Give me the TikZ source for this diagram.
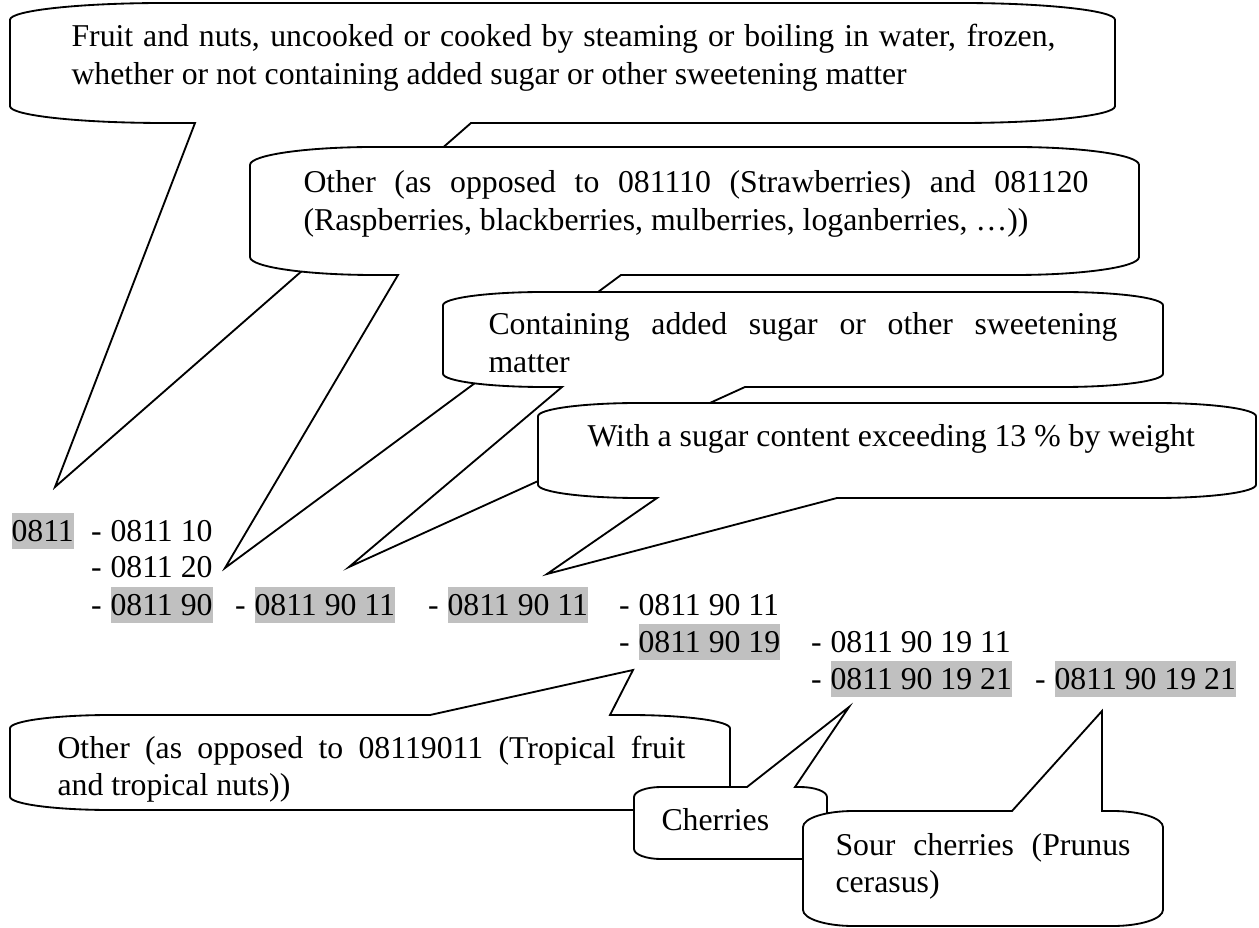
\documentclass[tikz,border=0pt]{standalone}
\usepackage{fontspec}
\setmainfont{Liberation Serif}
\definecolor{hlgray}{RGB}{192,192,192}
\newdimen\px \px=0.381pt
% callout: left, top, right, bottom, wedge on top edge, wedge on bottom edge
\newcommand\bubble[6]{%
  \pgfmathsetmacro\crx{0.14*(#3-#1)}%
  \pgfmathsetmacro\cry{0.14*(#4-#2)}%
  \pgfmathsetmacro\ckx{0.5523*\crx}%
  \pgfmathsetmacro\cky{0.5523*\cry}%
  \draw[bubbleline] (#1,#2+\cry) .. controls (#1,#2+\cry-\cky) and (#1+\crx-\ckx,#2) .. (#1+\crx,#2) #5
    -- (#3-\crx,#2) .. controls (#3-\crx+\ckx,#2) and (#3,#2+\cry-\cky) .. (#3,#2+\cry)
    -- (#3,#4-\cry) .. controls (#3,#4-\cry+\cky) and (#3-\crx+\ckx,#4) .. (#3-\crx,#4) #6
    -- (#1+\crx,#4) .. controls (#1+\crx-\ckx,#4) and (#1,#4-\cry+\cky) .. (#1,#4-\cry) -- cycle;}
% code with its leading dash
\newcommand\codeitem[5]{%
  \node[code,#5] (#1) at (#2,#3) {#4};
  \node[code,anchor=base east] (#1-dash) at ([xshift=-3pt]#1.base west) {-};}

\begin{document}
\begin{tikzpicture}[x=0.381pt,y=-0.381pt,
    bubbleline/.style={fill=white,line width=0.7pt,line join=miter},
    note/.style={anchor=base west,inner sep=0pt,align=justify,
      font=\fontsize{12.1}{14.3}\selectfont},
    code/.style={anchor=base west,inner sep=0pt,text height=10.7pt,text depth=3pt,
      font=\fontsize{12.1}{14.3}\selectfont},
    hl/.style={fill=hlgray}]
  \useasboundingbox (0,0) rectangle (1259,928);

  % where the tails point
  \coordinate (tipFruit) at (55,487);
  \coordinate (tipOther) at (225,568);
  \coordinate (tipCont) at (349,567);
  \coordinate (tipWith) at (547,574);
  \coordinate (tipOtherB) at (633,670);
  \coordinate (tipCherry) at (849,707);
  \coordinate (tipSour) at (1102,711);

  % callouts above the codes
  \bubble{10}{3}{1115}{123}{}{-- (471,123) -- (tipFruit) -- (195,123)}
  \node[note,text width=984\px] (txtFruit) at (71,47)
    {Fruit and nuts, uncooked or cooked by steaming or boiling in water, frozen,\linebreak
     whether or not containing added sugar or other sweetening matter};
  \bubble{250}{147}{1139}{275}{}{-- (621,275) -- (tipOther) -- (398,275)}
  \node[note,text width=785\px] (txtOther) at (303,193)
    {Other (as opposed to 081110 (Strawberries) and 081120\linebreak
     (Raspberries, blackberries, mulberries, loganberries, …))};
  \bubble{443}{292}{1163}{387}{}{-- (745,387) -- (tipCont) -- (562,387)}
  \node[note,text width=629\px] (txtCont) at (488,335)
    {Containing added sugar or other sweetening\linebreak matter};
  \bubble{538}{403}{1256}{498}{}{-- (837,498) -- (tipWith) -- (657,498)}
  \node[note,align=left] (txtWith) at (587,447)
    {With a sugar content exceeding 13 \% by weight};

  % the codes
  \node[code,hl] (c0811) at (11,541) {0811};
  \codeitem{c10}{110}{541}{0811 10}{}
  \codeitem{c20}{110}{578}{0811 20}{}
  \codeitem{c90}{110}{615}{0811 90}{hl}
  \codeitem{c9011a}{254}{615}{0811 90 11}{hl}
  \codeitem{c9011b}{447}{615}{0811 90 11}{hl}
  \codeitem{c9011c}{638}{615}{0811 90 11}{}
  \codeitem{c9019}{638}{652}{0811 90 19}{hl}
  \codeitem{c901911}{830}{652}{0811 90 19 11}{}
  \codeitem{c901921a}{830}{689}{0811 90 19 21}{hl}
  \codeitem{c901921b}{1054}{689}{0811 90 19 21}{hl}

  % callouts below the codes
  \bubble{10}{715}{730}{810}{-- (430,715) -- (tipOtherB) -- (610,715)}{}
  \node[note,text width=628\px] (txtOtherB) at (57,758)
    {Other (as opposed to 08119011 (Tropical fruit\linebreak and tropical nuts))};
  \bubble{634}{787}{827}{859}{-- (747,787) -- (tipCherry) -- (795,787)}{}
  \node[note,align=left] (txtCherry) at (661,830) {Cherries};
  \bubble{803}{811}{1163}{926}{-- (1012,811) -- (tipSour) -- (1102,811)}{}
  \node[note,text width=295\px] (txtSour) at (835,855)
    {Sour cherries (Prunus\linebreak cerasus)};
\end{tikzpicture}
\end{document}
